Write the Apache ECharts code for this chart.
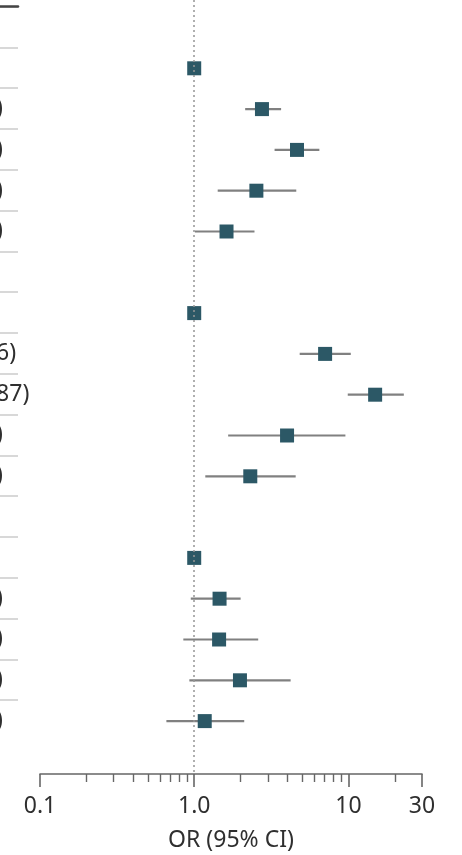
<!DOCTYPE html>
<html>
<head>
<meta charset="utf-8">
<script src="https://cdn.jsdelivr.net/npm/echarts@6/dist/echarts.min.js"></script>
<style>
  html, body { margin: 0; padding: 0; background: #fff; }
  #chart { width: 462px; height: 855px; }
</style>
</head>
<body>
<div id="chart"></div>
<script>
// One entry per table row. null = group header row; an OR without interval = reference category.
const oddsRatio = [null, 1, 2.75, 4.64, 2.53, 1.62, null, 1, 7.06, 14.90, 4.00, 2.31, null, 1, 1.46, 1.45, 1.98, 1.17];
const ciLower   = [null, null, 2.14, 3.32, 1.42, 1.01, null, null, 4.83, 9.90, 1.66, 1.18, null, null, 0.95, 0.85, 0.93, 0.66];
const ciUpper   = [null, null, 3.66, 6.48, 4.59, 2.46, null, null, 10.36, 22.87, 9.56, 4.55, null, null, 2.00, 2.60, 4.22, 2.11];
const referenceText = '1 [Reference]';

// Log-scale x axis ticks
const majorTickValues = [0.1, 1, 10, 30];
const majorTickLabels = ['0.1', '1.0', '10', '30'];
const minorTickValues = [0.2, 0.3, 0.4, 0.5, 0.6, 0.7, 0.8, 0.9, 2, 3, 4, 5, 6, 7, 8, 9, 20];
const axisTitle = 'OR (95% CI)';

const FONT = '"Noto Sans", sans-serif';
const FONT_SIZE = 23;
const TEXT_COLOR = '#2f2f2f';
const AXIS_COLOR = '#666666';
const MARKER_COLOR = '#2c5866';
const nRows = oddsRatio.length;

// OR (95% CI) text column
const fmt = v => v.toFixed(2);
const rowText = oddsRatio.map((v, i) => {
  if (v == null) return '';
  if (ciLower[i] == null) return referenceText;
  return fmt(v) + ' (' + fmt(ciLower[i]) + '-' + fmt(ciUpper[i]) + ')';
});

// The text column is left aligned and runs off the left edge; it ends just right of x = 0
const measureCtx = document.createElement('canvas').getContext('2d');
measureCtx.font = FONT_SIZE + 'px "Noto Sans"';
const firstValueRow = rowText.findIndex((t, i) => ciLower[i] != null);
const colWidth = measureCtx.measureText(rowText[firstValueRow]).width;
const labelAxisLeft = 20;
const colEndX = 3;
const labelMargin = labelAxisLeft - (colEndX - colWidth);

const points = [];
const intervals = [];
oddsRatio.forEach((v, i) => {
  if (v == null) return;
  points.push([v, i]);
  if (ciLower[i] != null) intervals.push([ciLower[i], ciUpper[i], i]);
});

const log10 = Math.log10;
const chart = echarts.init(document.getElementById('chart'), null, { renderer: 'canvas' });

// Plot area: row i is centred at 27.5 + 40.8 * i px; x axis sits at y = 774
const rowPitch = 40.8;
const plotHeight = 774;
const yMin = -27.5 / rowPitch;
const yMax = yMin + plotHeight / rowPitch;

chart.setOption({
  animation: false,
  backgroundColor: '#ffffff',
  textStyle: { fontFamily: FONT },
  grid: [
    { left: 40, right: 40, top: 0, height: plotHeight, outerBoundsMode: 'none', containLabel: false },
    { left: 0, width: 18, top: 6.5, height: rowPitch * 17, outerBoundsMode: 'none', containLabel: false },
    { left: labelAxisLeft, width: 1, top: 6.5, height: rowPitch * nRows, outerBoundsMode: 'none', containLabel: false }
  ],
  xAxis: [
    { // data axis (log)
      type: 'log', logBase: 10, min: 0.1, max: 30, gridIndex: 0, show: false
    },
    { // major ticks, labels and axis title (in log10 units)
      type: 'value', gridIndex: 0, position: 'bottom',
      min: log10(0.1), max: log10(30),
      axisLine: { show: true, lineStyle: { color: AXIS_COLOR, width: 1.6 } },
      axisTick: { show: true, length: 13, customValues: majorTickValues.map(log10),
                  lineStyle: { color: AXIS_COLOR, width: 1.6 } },
      axisLabel: {
        show: true, customValues: majorTickValues.map(log10), margin: 21,
        fontSize: FONT_SIZE, color: TEXT_COLOR, fontFamily: FONT,
        formatter: v => {
          const k = majorTickValues.findIndex(t => Math.abs(log10(t) - v) < 1e-6);
          return k >= 0 ? majorTickLabels[k] : '';
        }
      },
      splitLine: { show: false },
      name: axisTitle, nameLocation: 'middle', nameGap: 55,
      nameTextStyle: { fontSize: FONT_SIZE, color: TEXT_COLOR, fontFamily: FONT }
    },
    { // minor ticks
      type: 'value', gridIndex: 0, position: 'bottom',
      min: log10(0.1), max: log10(30),
      axisLine: { show: false },
      axisTick: { show: true, length: 8, customValues: minorTickValues.map(log10),
                  lineStyle: { color: AXIS_COLOR, width: 1.4 } },
      axisLabel: { show: false },
      splitLine: { show: false }
    },
    { // top rule of the table column
      type: 'value', gridIndex: 1, position: 'top', min: 0, max: 1,
      axisLine: { show: true, lineStyle: { color: '#444', width: 2.5 } },
      axisTick: { show: false }, axisLabel: { show: false }, splitLine: { show: false }
    },
    {
      type: 'value', gridIndex: 2, show: false
    }
  ],
  yAxis: [
    {
      type: 'value', gridIndex: 0, inverse: true, min: yMin, max: yMax, show: false
    },
    { // row separators of the table column
      type: 'value', gridIndex: 1, inverse: true, min: 0, max: 17, interval: 1,
      axisLine: { show: false }, axisTick: { show: false }, axisLabel: { show: false },
      splitLine: { show: true, lineStyle: { color: '#cfcfcf', width: 1.6 } }
    },
    { // OR (95% CI) text
      type: 'category', gridIndex: 2, inverse: true,
      data: rowText,
      axisLine: { show: false }, axisTick: { show: false }, splitLine: { show: false },
      axisLabel: {
        show: true, interval: 0, align: 'left', margin: labelMargin,
        fontSize: FONT_SIZE, color: TEXT_COLOR, fontFamily: FONT
      }
    }
  ],
  series: [
    {
      type: 'custom',
      xAxisIndex: 0, yAxisIndex: 0,
      data: intervals,
      encode: { x: [0, 1], y: 2 },
      silent: true,
      z: 2,
      renderItem: (params, api) => {
        const a = api.coord([api.value(0), api.value(2)]);
        const b = api.coord([api.value(1), api.value(2)]);
        return {
          type: 'line',
          shape: { x1: a[0], y1: a[1], x2: b[0], y2: b[1] },
          style: { stroke: '#808080', lineWidth: 2.2 }
        };
      }
    },
    {
      type: 'scatter',
      xAxisIndex: 0, yAxisIndex: 0,
      data: points,
      symbol: 'rect',
      symbolSize: 14,
      itemStyle: { color: MARKER_COLOR, opacity: 1 },
      silent: true,
      z: 3,
      markLine: {
        silent: true,
        symbol: 'none',
        label: { show: false },
        lineStyle: { color: '#959595', type: [2, 3], width: 1.5 },
        data: [{ xAxis: 1 }]
      }
    }
  ]
});
</script>
</body>
</html>
